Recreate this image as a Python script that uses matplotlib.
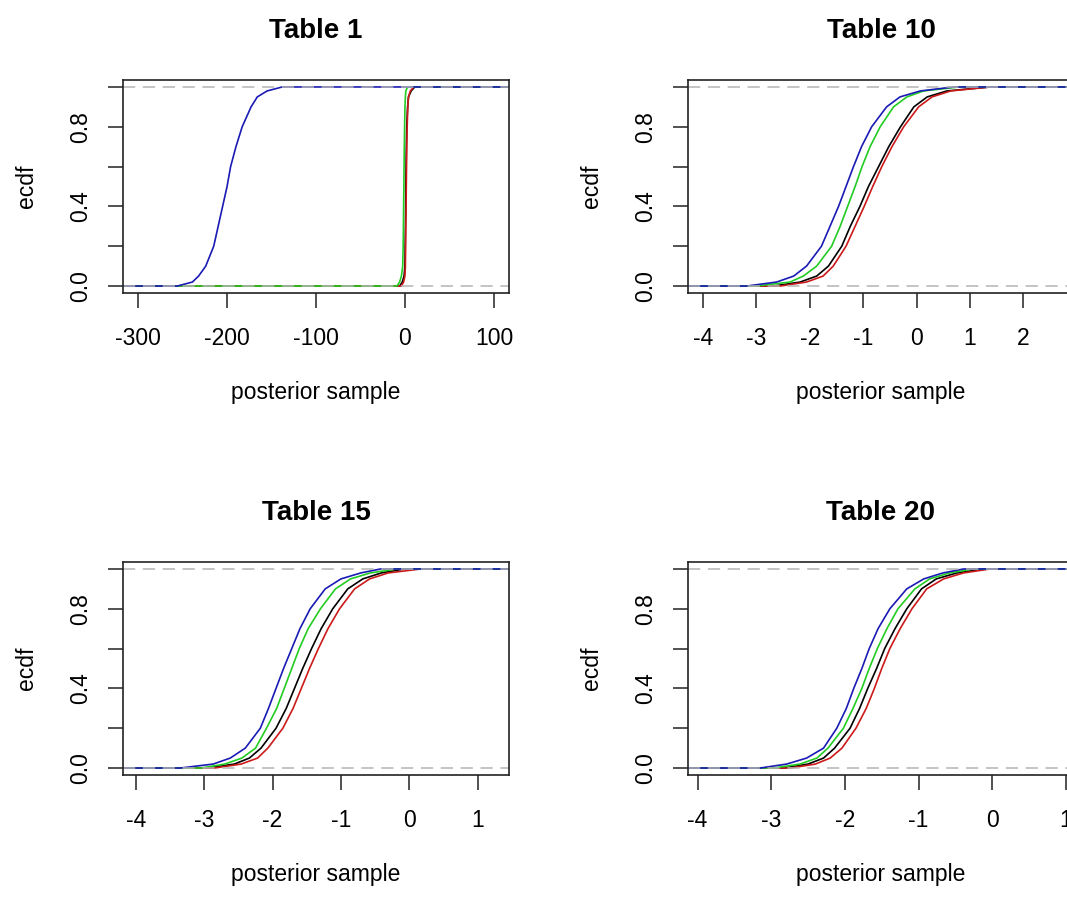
import matplotlib
matplotlib.use("Agg")
import matplotlib.pyplot as plt

plt.rcParams['font.family'] = ['Liberation Sans', 'DejaVu Sans']
plt.rcParams['axes.unicode_minus'] = False

probs = [0.0, 0.02, 0.05, 0.1, 0.2, 0.3, 0.4, 0.5, 0.6, 0.7, 0.8, 0.9, 0.95, 0.98, 1.0]

# Table 1
t1_blue = [-256, -239, -232, -224, -215, -210, -205, -200, -196, -190, -183, -173, -166, -155, -138]
t1_green = [-9, -6, -4, -2.5, -2, -1.7, -1.5, -1.2, -1, -0.7, -0.4, 0, 0.5, 1, 3]
t1_black = [-6, -3, -1, 0, 0.3, 0.6, 0.8, 1, 1.3, 1.6, 2, 3, 4, 7, 11]
t1_red = [-4, -1.5, 0, 0.5, 0.8, 1, 1.3, 1.5, 1.8, 2.1, 2.5, 3.2, 4, 6, 10]

# Table 10
t10_blue = [-3.18, -2.62, -2.30, -2.06, -1.78, -1.62, -1.46, -1.32, -1.18, -1.03, -0.84, -0.56, -0.31, 0.07, 0.70]
t10_green = [-3.00, -2.37, -2.12, -1.87, -1.59, -1.43, -1.29, -1.15, -1.02, -0.87, -0.68, -0.43, -0.18, 0.13, 0.80]
t10_black = [-2.68, -2.18, -1.87, -1.65, -1.40, -1.24, -1.06, -0.90, -0.71, -0.52, -0.30, -0.05, 0.20, 0.57, 1.38]
t10_red = [-2.55, -2.06, -1.75, -1.56, -1.32, -1.15, -0.98, -0.82, -0.65, -0.46, -0.24, 0.04, 0.29, 0.64, 1.38]

# Table 15
t15_blue = [-3.35, -2.87, -2.62, -2.40, -2.18, -2.06, -1.95, -1.84, -1.72, -1.60, -1.45, -1.23, -1.00, -0.71, -0.42]
t15_green = [-3.05, -2.70, -2.45, -2.25, -2.09, -1.94, -1.83, -1.72, -1.61, -1.48, -1.30, -1.08, -0.86, -0.57, -0.18]
t15_black = [-2.95, -2.56, -2.34, -2.17, -1.95, -1.80, -1.68, -1.56, -1.43, -1.29, -1.12, -0.90, -0.68, -0.41, -0.07]
t15_red = [-2.85, -2.46, -2.22, -2.07, -1.85, -1.70, -1.58, -1.46, -1.33, -1.19, -1.02, -0.80, -0.58, -0.31, 0.17]

# Table 20
t20_blue = [-3.15, -2.79, -2.52, -2.29, -2.11, -1.98, -1.88, -1.77, -1.67, -1.55, -1.39, -1.16, -0.93, -0.67, -0.39]
t20_green = [-2.97, -2.61, -2.38, -2.23, -2.02, -1.89, -1.77, -1.67, -1.56, -1.43, -1.28, -1.05, -0.85, -0.58, -0.26]
t20_black = [-2.83, -2.50, -2.29, -2.14, -1.93, -1.80, -1.69, -1.57, -1.46, -1.32, -1.16, -0.96, -0.76, -0.48, -0.12]
t20_red = [-2.74, -2.40, -2.20, -2.04, -1.85, -1.71, -1.60, -1.50, -1.39, -1.25, -1.09, -0.89, -0.66, -0.39, -0.03]

titles = ["Table 1", "Table 10", "Table 15", "Table 20"]
curves = [
    [t1_black, t1_red, t1_green, t1_blue],
    [t10_black, t10_red, t10_green, t10_blue],
    [t15_black, t15_red, t15_green, t15_blue],
    [t20_black, t20_red, t20_green, t20_blue],
]
xlims = [(-317, 117), (-4.28, 2.95), (-4.19, 1.46), (-4.13, 1.11)]
xticks = [[-300, -200, -100, 0, 100], [-4, -3, -2, -1, 0, 1, 2],
          [-4, -3, -2, -1, 0, 1], [-4, -3, -2, -1, 0, 1]]
colors = ['black', '#cc1a1a', '#22cc22', '#1a1ab4']

W, H = 1067, 897
fig = plt.figure(figsize=(W / 100, H / 100), dpi=100)

# panel boxes in pixels: left, top
boxes = [(123, 80), (688, 80), (123, 562), (688, 562)]
bw, bh = 386, 213

for i, (left, top) in enumerate(boxes):
    ax = fig.add_axes([left / W, (H - top - bh) / H, bw / W, bh / H])
    lo, hi = xlims[i]
    for xs, c in zip(curves[i], colors):
        ax.plot([lo] + xs + [hi], [0] + probs + [1], color=c, lw=1.2)
    for yv in (0, 1):
        ax.axhline(yv, color='#b4b4b4', lw=1.1, linestyle=(0, (8, 5)))
    ax.set_xlim(lo, hi)
    ax.set_ylim(-0.035, 1.035)
    ax.set_xticks(xticks[i])
    ax.set_yticks([0, 0.2, 0.4, 0.6, 0.8, 1.0])
    ax.set_yticklabels(["0.0", "", "0.4", "", "0.8", ""])
    ax.tick_params(axis='both', direction='out', length=10.5, width=1.1,
                   labelsize=16.5, color='#222222')
    ax.tick_params(axis='x', pad=14)
    ax.tick_params(axis='y', pad=12)
    for lab in ax.get_yticklabels():
        lab.set_rotation(90)
        lab.set_va('center')
    for s in ax.spines.values():
        s.set_linewidth(1.2)
        s.set_color('#222222')
    ax.set_title(titles[i], fontsize=20, fontweight='bold', pad=30)
    ax.set_xlabel("posterior sample", fontsize=16.5, labelpad=22)
    ax.set_ylabel("ecdf", fontsize=16.5, labelpad=22)

fig.savefig("out.png", dpi=100)
